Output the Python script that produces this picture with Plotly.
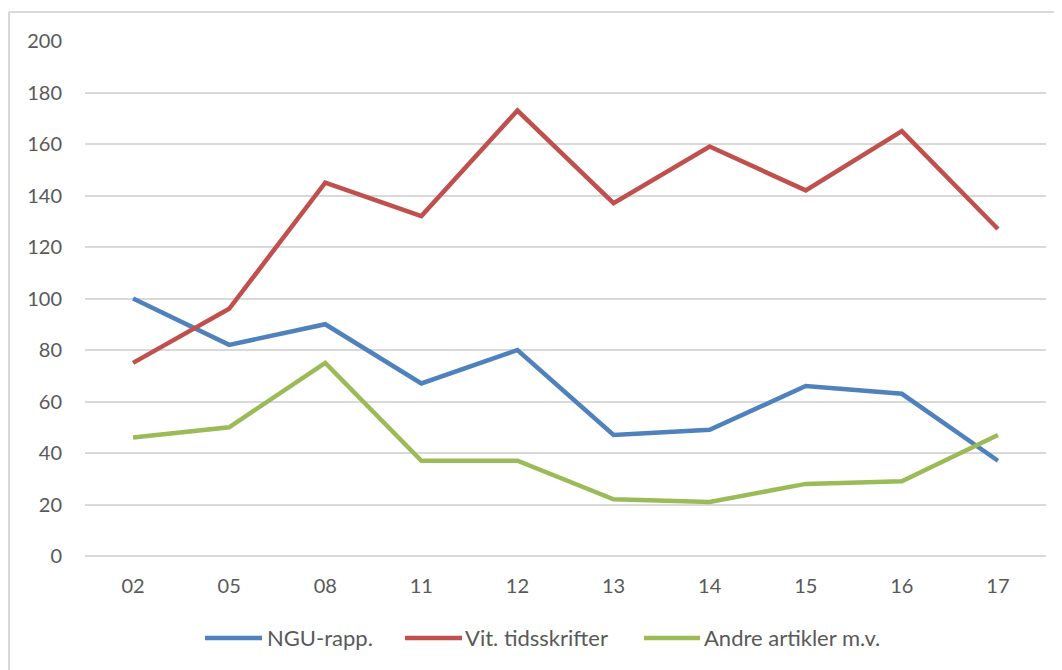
import plotly.graph_objects as go

categories = ["02", "05", "08", "11", "12", "13", "14", "15", "16", "17"]
ngu_rapp = [100, 82, 90, 67, 80, 47, 49, 66, 63, 37]
vit_tidsskrifter = [75, 96, 145, 132, 173, 137, 159, 142, 165, 127]
andre_artikler = [46, 50, 75, 37, 37, 22, 21, 28, 29, 47]
y_ticks = [0, 20, 40, 60, 80, 100, 120, 140, 160, 180, 200]

series_names = ["NGU-rapp.", "Vit. tidsskrifter", "Andre artikler m.v."]
series_colors = ["#4F81BD", "#C0504D", "#9BBB59"]
series_values = [ngu_rapp, vit_tidsskrifter, andre_artikler]

font_family = "Lato, Carlito, Open Sans, sans-serif"
tick_color = "#595959"
line_w = 4.5

fig = go.Figure()
for name, color, vals in zip(series_names, series_colors, series_values):
    fig.add_trace(go.Scatter(x=categories, y=vals, mode="lines", name=name,
                             line=dict(color=color, width=line_w), showlegend=False))

# Custom legend (Excel-style long line keys)
legend_y = -0.1592
legend_items = [(0.1249, 0.1842, 0.1873), (0.3330, 0.3923, 0.3933), (0.5817, 0.6400, 0.6420)]
shapes = [
    dict(type="line", xref="paper", yref="paper", x0=-0.0791, x1=-0.0791, y0=1.0563, y1=-0.5,
         line=dict(color="#D9D9D9", width=2)),
    dict(type="line", xref="paper", yref="paper", x0=-0.0791, x1=1.2, y0=1.0563, y1=1.0563,
         line=dict(color="#D9D9D9", width=2)),
]
annotations = []
for (lx0, lx1, tx), name, color in zip(legend_items, series_names, series_colors):
    shapes.append(dict(type="line", xref="paper", yref="paper", x0=lx0, x1=lx1,
                       y0=legend_y, y1=legend_y, line=dict(color=color, width=line_w)))
    annotations.append(dict(xref="paper", yref="paper", x=tx, y=legend_y, text=name,
                            showarrow=False, xanchor="left", yanchor="middle",
                            font=dict(family=font_family, size=22, color=tick_color)))

fig.update_layout(
    width=1054, height=662,
    margin=dict(l=77, r=16, t=33, b=114),
    paper_bgcolor="white", plot_bgcolor="white",
    font=dict(family=font_family, size=20, color=tick_color),
    showlegend=False,
    xaxis=dict(type="category", showgrid=False, zeroline=False, showline=False,
               ticks="", ticklabelstandoff=16, tickfont=dict(size=20, color=tick_color),
               range=[-0.5, len(categories) - 0.5]),
    yaxis=dict(range=[0, 200], tickvals=y_ticks, showgrid=True, gridcolor="#D9D9D9",
               gridwidth=1.5, zeroline=True, zerolinecolor="#D9D9D9", zerolinewidth=1.5,
               showline=False, ticks="", ticklabelstandoff=22,
               tickfont=dict(size=20, color=tick_color)),
    shapes=shapes,
    annotations=annotations,
)

fig.write_html("out.html")
